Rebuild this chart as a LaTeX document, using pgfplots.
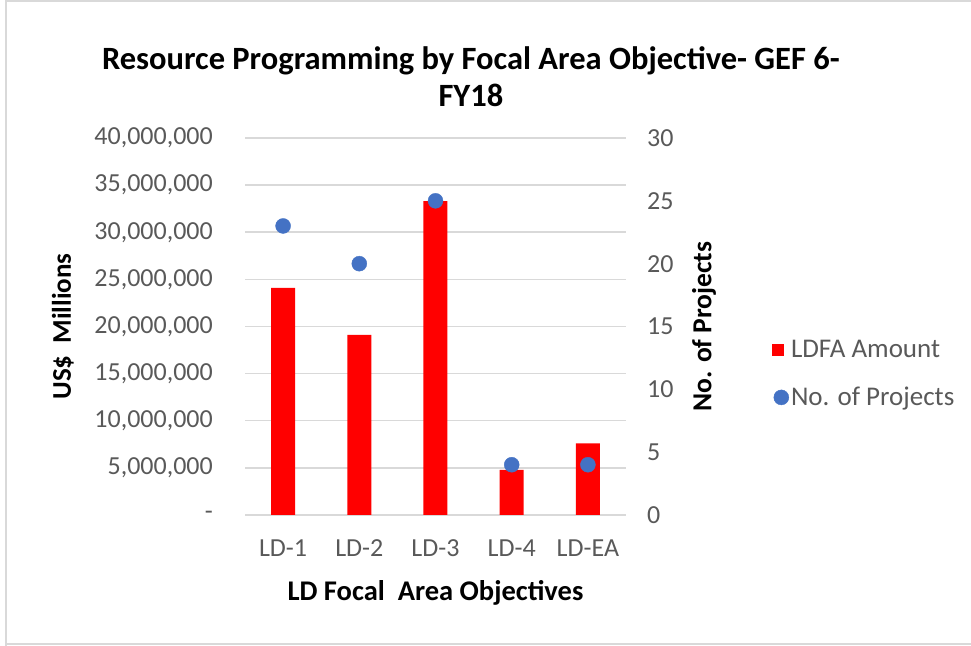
\documentclass[border=0pt]{standalone}
\usepackage{pgfplots}
\pgfplotsset{compat=1.18}
\usepackage{fontspec}
\setmainfont{Carlito}
\definecolor{barred}{HTML}{FF0000}
\definecolor{dotblue}{HTML}{4472C4}
\definecolor{ticktext}{HTML}{595959}
\definecolor{gridgray}{HTML}{D9D9D9}
\begin{document}
\begin{tikzpicture}
\path[use as bounding box] (0,0) rectangle (971bp,646bp);
\draw[gridgray, line width=2bp] (6bp,0bp) -- (6bp,645bp) -- (971bp,645bp);
\draw[gridgray, line width=2bp] (6bp,2bp) -- (971bp,2bp);
\begin{axis}[
  at={(245bp,131bp)}, anchor=south west,
  scale only axis, width=381bp, height=377bp,
  xmin=-0.5, xmax=4.5, ymin=0, ymax=40000000,
  scaled y ticks=false,
  xtick={0,1,2,3,4}, xticklabels={LD-1,LD-2,LD-3,LD-4,LD-EA},
  ytick={0,5000000,10000000,15000000,20000000,25000000,30000000,35000000,40000000},
  yticklabels={{-\hspace{8bp}},{5,000,000},{10,000,000},{15,000,000},{20,000,000},{25,000,000},{30,000,000},{35,000,000},{40,000,000}},
  major tick length=0pt,
  axis line style={draw=none},
  ymajorgrids, grid style={gridgray, line width=1.5bp},
  ticklabel style={font=\fontsize{26bp}{31bp}\selectfont, text=ticktext, inner sep=0pt},
  yticklabel style={anchor=east, xshift=-32bp},
  xticklabel style={anchor=base, yshift=-41bp},
  xlabel={LD Focal\ \ Area Objectives},
  ylabel={US\$\ \ Millions},
  every axis x label/.style={at={(axis description cs:0.5,-0.228)}, anchor=base, font=\bfseries\fontsize{28.5bp}{33bp}\selectfont},
  every axis y label/.style={at={(axis description cs:-0.478,0.5)}, anchor=center, rotate=90, font=\bfseries\fontsize{27bp}{32bp}\selectfont},
  title={Resource Programming by Focal Area Objective- GEF 6-\\FY18},
  every axis title/.style={at={(axis description cs:0.593,1.163)}, anchor=center, align=center, font=\bfseries\fontsize{32.5bp}{37bp}\selectfont},
  ybar, bar width=24bp,
]
\addplot[fill=barred, draw=none] coordinates {(0,24100000) (1,19100000) (2,33300000) (3,4800000) (4,7600000)};
\end{axis}
\begin{axis}[
  at={(245bp,131bp)}, anchor=south west,
  scale only axis, width=381bp, height=377bp,
  xmin=-0.5, xmax=4.5, ymin=0, ymax=30,
  axis x line=none,
  axis y line*=right,
  axis line style={draw=none},
  ytick={0,5,10,15,20,25,30}, yticklabels={0,5,10,15,20,25,30},
  major tick length=0pt,
  yticklabel style={font=\fontsize{26bp}{31bp}\selectfont, text=ticktext, inner sep=0pt, anchor=west, xshift=21bp},
  ylabel={No. of Projects},
  every axis y label/.style={at={(axis description cs:1.205,0.5)}, anchor=center, rotate=90, font=\bfseries\fontsize{27.5bp}{32bp}\selectfont},
  legend style={at={(axis description cs:1.383,0.374)}, anchor=west, draw=none, fill=none, font=\fontsize{27bp}{32bp}\selectfont, text=ticktext, inner sep=0pt, row sep=24bp},
  legend cell align=left,
]
\addlegendimage{legend image code/.code={\fill[barred] (0bp,-5.5bp) rectangle (11bp,5.5bp); \path[draw=none,fill=none] (0bp,0bp) rectangle (14bp,0.1bp);}}
\addlegendentry{LDFA Amount}
\addplot[only marks, mark=*, mark size=7.5bp, color=dotblue, legend image code/.code={\fill[dotblue] (9bp,0bp) circle (7.5bp); \path[draw=none,fill=none] (0bp,0bp) rectangle (14bp,0.1bp);}] coordinates {(0,23) (1,20) (2,25) (3,4) (4,4)};
\addlegendentry{No. of Projects}
\end{axis}
\end{tikzpicture}
\end{document}
